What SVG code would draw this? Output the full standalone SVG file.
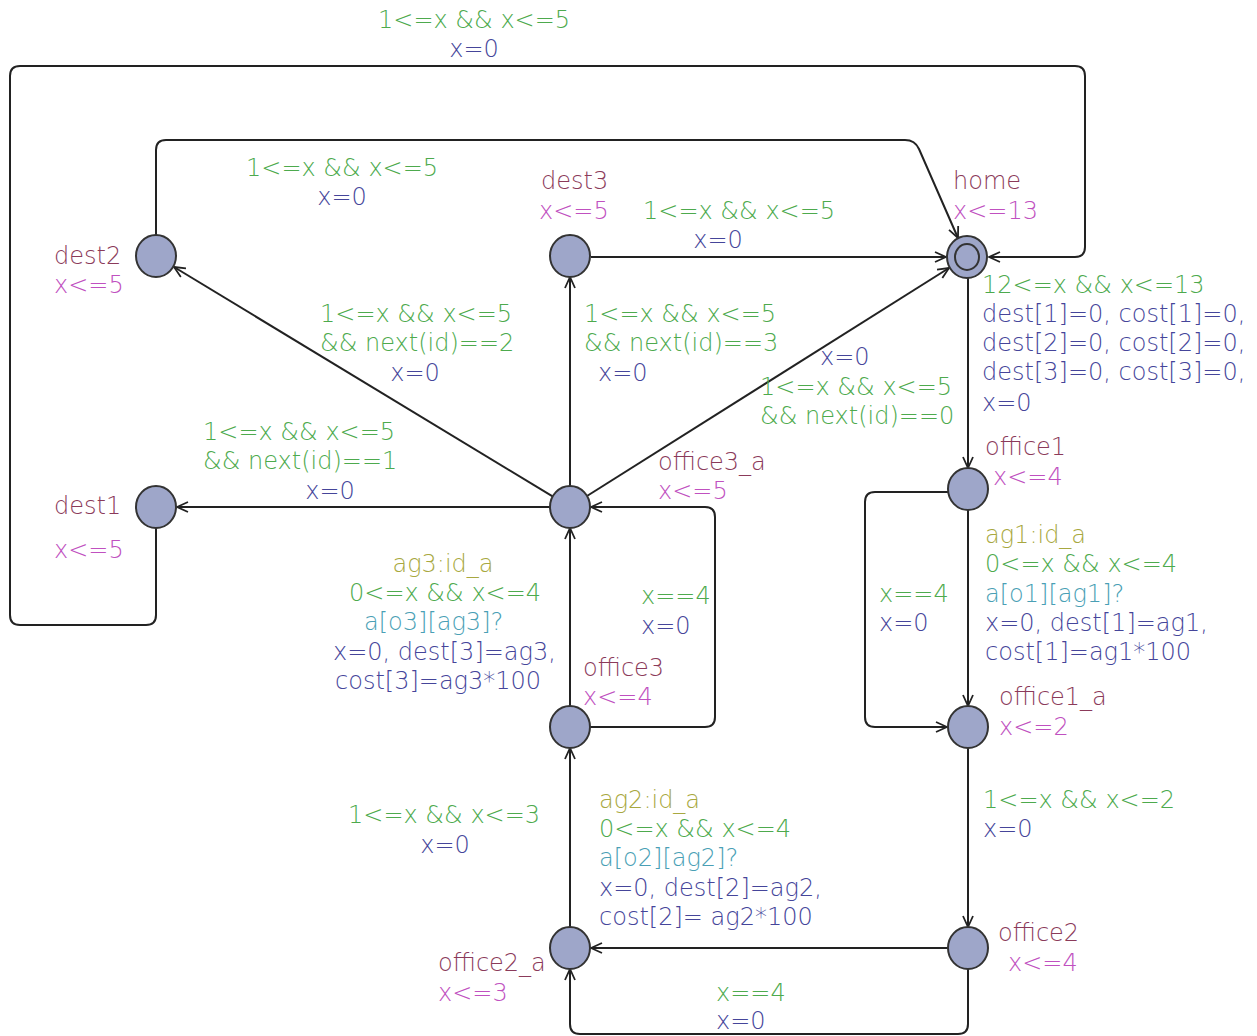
<svg xmlns="http://www.w3.org/2000/svg" width="1257" height="1036" viewBox="0 0 1257 1036">
<style>
text{font-family:"DejaVu Sans","Liberation Sans",sans-serif;font-size:24px;font-weight:200}
.nm{fill:#8b3a5a}.inv{fill:#c050c0}.sel{fill:#a8a840}.g{fill:#4daa4d}.sy{fill:#4a9fb5}.u{fill:#45459a}
.loc{fill:#9ea6c9;stroke:#333;stroke-width:2}
.e{fill:none;stroke:#222;stroke-width:2;marker-end:url(#ar)}
</style>
<defs>
<marker id="ar" markerWidth="14" markerHeight="12" refX="12" refY="6" orient="auto" markerUnits="userSpaceOnUse">
<path d="M1,1 L12,6 L1,11" fill="none" stroke="#222" stroke-width="1.8"/>
</marker>
</defs>
<rect width="1257" height="1036" fill="#fff"/>
<g id="connectors">
<path class="e" d="M156,528 V615 Q156,625 146,625 H20 Q10,625 10,615 V76 Q10,66 20,66 H1075 Q1085,66 1085,76 V247 Q1085,257 1075,257 H989"/>
<path class="e" d="M156,235 V150 Q156,140 166,140 H905 Q915,140 919,149 L958,238"/>
<path class="e" d="M591,257 H946"/>
<path class="e" d="M553,496.6 L174,267"/>
<path class="e" d="M570,487 V277"/>
<path class="e" d="M587,496 L949,268"/>
<path class="e" d="M550,507 H177"/>
<path class="e" d="M570,707 V528"/>
<path class="e" d="M590,727 H705 Q715,727 715,717 V517 Q715,507 705,507 H591"/>
<path class="e" d="M570,928 V748"/>
<path class="e" d="M948,948 H591"/>
<path class="e" d="M968,969 V1024 Q968,1034 958,1034 H580 Q570,1034 570,1024 V969"/>
<path class="e" d="M968,278 V468"/>
<path class="e" d="M968,510 V706"/>
<path class="e" d="M948,492 H875 Q865,492 865,502 V717 Q865,727 875,727 H947"/>
<path class="e" d="M968,748 V927"/>
</g>
<g id="labels">
<text class="g" x="378" y="28">1&lt;=x &amp;&amp; x&lt;=5</text>
<text class="u" x="474" y="57" text-anchor="middle">x=0</text>
<text class="g" x="246" y="176">1&lt;=x &amp;&amp; x&lt;=5</text>
<text class="u" x="342" y="205" text-anchor="middle">x=0</text>
<text class="g" x="643" y="219">1&lt;=x &amp;&amp; x&lt;=5</text>
<text class="u" x="718" y="248" text-anchor="middle">x=0</text>
<text class="g" x="320" y="322">1&lt;=x &amp;&amp; x&lt;=5</text>
<text class="g" x="320" y="351">&amp;&amp; next(id)==2</text>
<text class="u" x="415" y="381" text-anchor="middle">x=0</text>
<text class="g" x="584" y="322">1&lt;=x &amp;&amp; x&lt;=5</text>
<text class="g" x="584" y="351">&amp;&amp; next(id)==3</text>
<text class="u" x="598" y="381">x=0</text>
<text class="u" x="820" y="365">x=0</text>
<text class="g" x="760" y="395">1&lt;=x &amp;&amp; x&lt;=5</text>
<text class="g" x="760" y="424">&amp;&amp; next(id)==0</text>
<text class="g" x="203" y="440">1&lt;=x &amp;&amp; x&lt;=5</text>
<text class="g" x="203" y="469">&amp;&amp; next(id)==1</text>
<text class="u" x="330" y="499" text-anchor="middle">x=0</text>
<text class="sel" x="443" y="572" text-anchor="middle">ag3:id_a</text>
<text class="g" x="349" y="601">0&lt;=x &amp;&amp; x&lt;=4</text>
<text class="sy" x="364" y="630">a[o3][ag3]?</text>
<text class="u" x="333" y="660">x=0, dest[3]=ag3,</text>
<text class="u" x="335" y="689">cost[3]=ag3*100</text>
<text class="g" x="641" y="604">x==4</text>
<text class="u" x="641" y="634">x=0</text>
<text class="g" x="982" y="293">12&lt;=x &amp;&amp; x&lt;=13</text>
<text class="u" x="982" y="322">dest[1]=0, cost[1]=0,</text>
<text class="u" x="982" y="351">dest[2]=0, cost[2]=0,</text>
<text class="u" x="982" y="380">dest[3]=0, cost[3]=0,</text>
<text class="u" x="982" y="411">x=0</text>
<text class="sel" x="985" y="543">ag1:id_a</text>
<text class="g" x="985" y="572">0&lt;=x &amp;&amp; x&lt;=4</text>
<text class="sy" x="985" y="602">a[o1][ag1]?</text>
<text class="u" x="985" y="631">x=0, dest[1]=ag1,</text>
<text class="u" x="985" y="660">cost[1]=ag1*100</text>
<text class="g" x="879" y="602">x==4</text>
<text class="u" x="879" y="631">x=0</text>
<text class="g" x="983" y="808">1&lt;=x &amp;&amp; x&lt;=2</text>
<text class="u" x="983" y="837">x=0</text>
<text class="sel" x="599" y="808">ag2:id_a</text>
<text class="g" x="599" y="837">0&lt;=x &amp;&amp; x&lt;=4</text>
<text class="sy" x="599" y="866">a[o2][ag2]?</text>
<text class="u" x="599" y="896">x=0, dest[2]=ag2,</text>
<text class="u" x="599" y="925">cost[2]= ag2*100</text>
<text class="g" x="348" y="823">1&lt;=x &amp;&amp; x&lt;=3</text>
<text class="u" x="445" y="853" text-anchor="middle">x=0</text>
<text class="g" x="716" y="1001">x==4</text>
<text class="u" x="716" y="1029">x=0</text>
</g>
<g id="dest2"><ellipse class="loc" cx="156" cy="256" rx="20" ry="21"/><text class="nm" x="54" y="264">dest2</text><text class="inv" x="54" y="293">x&lt;=5</text></g>
<g id="dest3"><ellipse class="loc" cx="570" cy="256" rx="20" ry="21"/><text class="nm" x="541" y="189">dest3</text><text class="inv" x="539" y="219">x&lt;=5</text></g>
<g id="home"><ellipse class="loc" cx="967" cy="257" rx="20" ry="21"/><ellipse cx="967" cy="257" rx="12" ry="13" fill="none" stroke="#333" stroke-width="2"/><text class="nm" x="953" y="189">home</text><text class="inv" x="953" y="219">x&lt;=13</text></g>
<g id="dest1"><ellipse class="loc" cx="156" cy="507" rx="20" ry="21"/><text class="nm" x="54" y="514">dest1</text><text class="inv" x="54" y="558">x&lt;=5</text></g>
<g id="office3_a"><ellipse class="loc" cx="570" cy="507" rx="20" ry="21"/><text class="nm" x="658" y="470">office3_a</text><text class="inv" x="658" y="499">x&lt;=5</text></g>
<g id="office3"><ellipse class="loc" cx="570" cy="727" rx="20" ry="21"/><text class="nm" x="583" y="676">office3</text><text class="inv" x="583" y="705">x&lt;=4</text></g>
<g id="office2_a"><ellipse class="loc" cx="570" cy="948" rx="20" ry="21"/><text class="nm" x="438" y="971">office2_a</text><text class="inv" x="438" y="1001">x&lt;=3</text></g>
<g id="office2"><ellipse class="loc" cx="968" cy="948" rx="20" ry="21"/><text class="nm" x="998" y="941">office2</text><text class="inv" x="1008" y="971">x&lt;=4</text></g>
<g id="office1"><ellipse class="loc" cx="968" cy="489" rx="20" ry="21"/><text class="nm" x="985" y="455">office1</text><text class="inv" x="993" y="485">x&lt;=4</text></g>
<g id="office1_a"><ellipse class="loc" cx="968" cy="727" rx="20" ry="21"/><text class="nm" x="999" y="705">office1_a</text><text class="inv" x="999" y="735">x&lt;=2</text></g>
</svg>
